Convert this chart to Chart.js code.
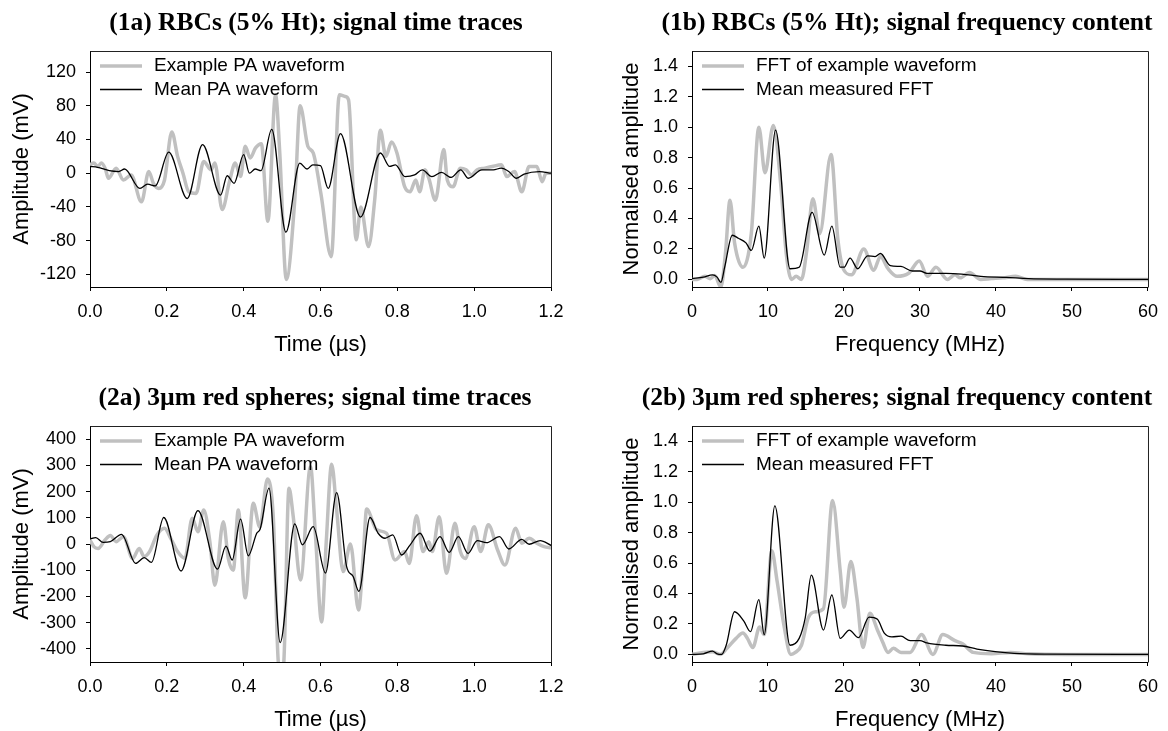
<!DOCTYPE html>
<html>
<head>
<meta charset="utf-8">
<title>PA waveforms and frequency content</title>
<script src="https://cdn.jsdelivr.net/npm/chart.js@4.4.1/dist/chart.umd.min.js"></script>
<style>
  html, body { margin: 0; padding: 0; background: #fff; }
  #fig { position: relative; width: 1168px; height: 731px; overflow: hidden; }
  #fig canvas { position: absolute; }
  .ttl { position: absolute; width: 600px; text-align: center; white-space: nowrap; color: #000;
         font: bold 25.5px "Liberation Serif", "Times New Roman", serif; line-height: 30px; }
</style>
</head>
<body>
<div id="fig">
  <canvas id="c1a" width="584" height="365" style="left:0;top:0"></canvas>
  <canvas id="c1b" width="584" height="365" style="left:584px;top:0"></canvas>
  <canvas id="c2a" width="584" height="365" style="left:0;top:375px"></canvas>
  <canvas id="c2b" width="584" height="365" style="left:584px;top:375px"></canvas>
  <div class="ttl" style="left:16px;top:7px">(1a) RBCs (5% Ht); signal time traces</div>
  <div class="ttl" style="left:607px;top:7px">(1b) RBCs (5% Ht); signal frequency content</div>
  <div class="ttl" style="left:15px;top:382px">(2a) 3µm red spheres; signal time traces</div>
  <div class="ttl" style="left:597px;top:382px">(2b) 3µm red spheres; signal frequency content</div>
</div>
<script>
// ---- data ----
// tick labels
const timeTicks = [0, 0.2, 0.4, 0.6, 0.8, 1.0, 1.2];
const freqTicks = [0, 10, 20, 30, 40, 50, 60];
const normTicks = [0, 0.2, 0.4, 0.6, 0.8, 1.0, 1.2, 1.4];
const ampTicks1 = [-120, -80, -40, 0, 40, 80, 120];
const ampTicks2 = [-400, -300, -200, -100, 0, 100, 200, 300, 400];

// (1a) RBCs, time traces (us, mV)
const exT1 = [0, 0.01, 0.02, 0.03, 0.04, 0.048, 0.068, 0.087, 0.107, 0.134, 0.153, 0.165, 0.179, 0.194, 0.213,
  0.228, 0.242, 0.257, 0.276, 0.296, 0.315, 0.325, 0.344, 0.363, 0.378, 0.392, 0.404, 0.417, 0.431, 0.446,
  0.463, 0.483, 0.494, 0.511, 0.533, 0.547, 0.567, 0.581, 0.601, 0.628, 0.649, 0.664, 0.673, 0.693, 0.705,
  0.725, 0.741, 0.756, 0.770, 0.785, 0.799, 0.819, 0.833, 0.848, 0.858, 0.872, 0.882, 0.899, 0.921, 0.930,
  0.945, 0.964, 0.979, 0.993, 1.008, 1.027, 1.047, 1.071, 1.085, 1.105, 1.124, 1.143, 1.163, 1.177, 1.187, 1.2];
const exA1 = [10, 12, 8, 12, 5, -6, 6, -8, -2, -34, 2, -12, -18, -8, 49,
  20, 0, -22, -24, 14, 4, 12, -43, -10, 12, -4, 32, 18, 30, 35,
  -57, 93, 24, -126, -32, 80, 32, 24, -24, -99, 93, 91, 87, -79, -40,
  -87, -32, 51, 20, 37, 24, -16, -22, -8, -22, 4, -6, -32, 28, -8,
  -16, 6, 4, -2, 4, 6, 8, 10, -4, 2, -22, 8, 8, -10, 0, 0];
const meanT1 = [0, 0.02, 0.05, 0.075, 0.09, 0.13, 0.15, 0.17, 0.205, 0.253, 0.293, 0.34, 0.357, 0.375, 0.40,
  0.415, 0.43, 0.445, 0.473, 0.51, 0.546, 0.565, 0.58, 0.60, 0.62, 0.652, 0.704, 0.756, 0.78, 0.795,
  0.82, 0.845, 0.865, 0.89, 0.915, 0.94, 0.965, 0.985, 1.02, 1.05, 1.07, 1.09, 1.11, 1.13, 1.17, 1.2];
const meanA1 = [8, 7, 3, 2, 5, -18, -13, -15, 25, -30, 34, -26, -3, -12, 22,
  0, 5, 3, 52, -70, 12, 5, 10, 9, -18, 47, -52, 24, 8, 10,
  -4, -2, 4, -4, 1, -5, 4, -6, 4, 4, 6, 2, -6, -1, 2, 0];

// (1b) RBCs, spectra (MHz, normalised)
const exF1 = [0, 0.7, 1.7, 2.4, 3.0, 3.8, 4.4, 5.0, 5.6, 6.7, 7.8, 8.8, 9.6, 10.7, 11.7, 12.4, 13.1, 13.7, 14.4,
  15.1, 15.9, 16.8, 18.3, 19.2, 20.0, 21.0, 22.6, 23.9, 24.8, 25.8, 27.0, 28.5, 29.9, 31.0, 32.1, 33.6,
  34.6, 35.3, 36.5, 38.0, 39.4, 40.9, 42.6, 44.1, 50, 60];
const exN1 = [0, 0, 0.02, 0.005, 0.025, -0.05, 0.17, 0.52, 0.24, 0.08, 0.30, 1.0, 0.70, 1.01, 0.61, 0.17, 0, 0.02, 0,
  0.19, 0.53, 0.30, 0.82, 0.26, 0.06, 0.03, 0.20, 0.06, 0.15, 0.07, 0.02, 0.04, 0.12, 0.02, 0.08, 0,
  0.03, 0.01, 0.045, 0, 0.005, 0.01, 0.02, 0, 0, 0];
const meanF1 = [0, 1.5, 2.7, 3.3, 3.8, 4.3, 5.3, 6.1, 7.1, 7.8, 8.8, 9.5, 11.0, 12.9, 14.1, 15.8, 17.4, 18.4,
  19.5, 20.0, 20.8, 21.8, 23.1, 24.1, 24.8, 26.1, 27.5, 29.0, 30.0, 30.9, 33.4, 35.5, 38.0, 41.4, 44.3, 49.2, 60];
const meanN1 = [0.005, 0.015, 0.03, 0.015, -0.02, 0.08, 0.29, 0.27, 0.24, 0.19, 0.35, 0.14, 0.98, 0.07, 0.08, 0.44, 0.16, 0.35,
  0.08, 0.08, 0.14, 0.07, 0.155, 0.15, 0.17, 0.09, 0.085, 0.055, 0.055, 0.04, 0.04, 0.035, 0.02, 0.013, 0.005, 0.002, 0];

// (2a) 3um spheres, time traces (us, mV)
const exT2 = [0, 0.01, 0.021, 0.039, 0.053, 0.068, 0.087, 0.111, 0.128, 0.141, 0.155, 0.174, 0.194, 0.211, 0.228,
  0.247, 0.266, 0.281, 0.296, 0.312, 0.325, 0.347, 0.36, 0.373, 0.386, 0.404, 0.425, 0.442, 0.462, 0.477,
  0.492, 0.503, 0.518, 0.529, 0.548, 0.574, 0.587, 0.603, 0.615, 0.629, 0.642, 0.659, 0.678, 0.699,
  0.712, 0.72, 0.746, 0.772, 0.794, 0.819, 0.831, 0.85, 0.867, 0.882, 0.891, 0.909, 0.928,
  0.95, 0.964, 0.977, 1.0, 1.017, 1.037, 1.061, 1.08, 1.108, 1.124, 1.143, 1.163, 1.182, 1.2];
const exA2 = [15, -10, -17, 15, 32, 9, 28, -55, -17, -48, -29, 34, 60, 19, -29,
  -55, 98, 47, 130, 9, -157, 85, -55, -100, 130, -205, 155, 65, 248, 106,
  -470, -470, 213, 105, -137, 295, 30, -297, 9, 304, 130, -105, 0, -252,
  -29, 133, 54, 41, -61, -29, -74, 108, -29, 9, -29, 104, -112,
  79, -29, -55, 66, -29, 73, -23, -80, 60, 3, 22, 3, -10, -14];
const meanT2 = [0, 0.015, 0.034, 0.053, 0.082, 0.119, 0.141, 0.16, 0.192, 0.237, 0.281, 0.332, 0.354, 0.37, 0.392,
  0.412, 0.434, 0.443, 0.466, 0.495, 0.533, 0.553, 0.581, 0.613, 0.642, 0.668, 0.685, 0.70, 0.729, 0.75,
  0.768, 0.788, 0.811, 0.833, 0.859, 0.885, 0.911, 0.935, 0.959, 0.984, 1.008, 1.032, 1.066, 1.09,
  1.124, 1.143, 1.172, 1.2];
const meanA2 = [19, 24, 6, 9, 37, -74, -52, -70, 101, -103, 127, -96, -8, -61, 95,
  -45, 41, 57, 213, -376, 77, -3, 66, -111, 196, -86, -124, -181, 101, 41,
  22, 35, -42, -4, 41, -27, 28, -32, 28, -36, 13, 5, 28, -19,
  18, -1, 13, -5];

// (2b) 3um spheres, spectra (MHz, normalised)
const exF2 = [0, 1.5, 2.7, 3.7, 4.6, 5.8, 6.7, 7.3, 8.0, 8.9, 9.5, 10.5, 11.2, 12.1, 13.0, 13.6, 14.4, 15.3, 16.3,
  17.3, 18.5, 19.5, 20.0, 20.9, 21.7, 22.5, 23.4, 24.4, 25.1, 25.8, 26.5, 27.5, 28.7, 30.2, 31.7, 33.0,
  34.6, 35.6, 37.0, 39.4, 41.9, 44.3, 49.2, 60];
const exN2 = [0, 0.013, 0.018, 0, 0.04, 0.105, 0.14, 0.105, 0.045, 0.18, 0.13, 0.68, 0.48, 0.19, 0, 0.013, 0.06, 0.24, 0.28,
  0.30, 1.01, 0.55, 0.31, 0.61, 0.37, 0.045, 0.27, 0.16, 0.08, 0.013, 0.04, 0.013, 0.013, 0.13, 0, 0.13,
  0.09, 0.07, 0.013, 0.004, 0.013, 0.004, 0, 0];
const meanF2 = [0, 1.5, 2.7, 3.3, 3.9, 4.5, 5.6, 6.8, 7.7, 8.8, 9.5, 10.9, 12.9, 14.1, 14.9, 15.7, 17.3, 18.4,
  19.5, 20.7, 21.9, 23.3, 24.4, 25.3, 26.3, 27.5, 28.7, 30.0, 30.9, 33.4, 35.6, 37.5, 39.9, 42.4, 46.8, 60];
const meanN2 = [0, 0.004, 0.022, 0.004, 0, 0.06, 0.28, 0.22, 0.15, 0.36, 0.13, 0.975, 0.06, 0.105, 0.24, 0.52, 0.16, 0.39,
  0.105, 0.16, 0.11, 0.245, 0.23, 0.14, 0.115, 0.12, 0.09, 0.09, 0.075, 0.06, 0.055, 0.035, 0.018, 0.007, 0.002, 0];

// ---- drawing ----
Chart.defaults.font.family = '"Liberation Sans", Arial, sans-serif';
Chart.defaults.color = '#000';

const pts = (xs, ys) => xs.map((x, i) => ({ x, y: ys[i] }));

// legend inside the plot + box round it
const insideLegend = {
  id: 'insideLegend',
  afterDatasetsDraw(chart) {
    const { ctx, chartArea: a } = chart;
    ctx.save();
    ctx.font = '19px "Liberation Sans", Arial, sans-serif';
    ctx.textBaseline = 'middle';
    ctx.fillStyle = '#000';
    chart.data.datasets.forEach((ds, i) => {
      const y = a.top + 15 + i * 23.5;
      ctx.strokeStyle = ds.borderColor;
      ctx.lineWidth = ds.borderWidth;
      ctx.beginPath();
      ctx.moveTo(a.left + 10, y);
      ctx.lineTo(a.left + 52, y);
      ctx.stroke();
      ctx.fillText(ds.label, a.left + 64, y);
    });
    ctx.strokeStyle = '#222';
    ctx.lineWidth = 1;
    ctx.beginPath();
    ctx.moveTo(a.left + 0.5, a.top + 0.5);
    ctx.lineTo(a.right + 0.5, a.top + 0.5);
    ctx.lineTo(a.right + 0.5, a.bottom + 0.5);
    ctx.stroke();
    ctx.restore();
  }
};

function axis(o) {
  return {
    type: 'linear',
    min: o.min, max: o.max,
    afterBuildTicks: s => { s.ticks = o.ticks.map(v => ({ value: v })); },
    afterFit: s => { if (o.width) s.width = o.width; if (o.height) s.height = o.height; },
    ticks: { font: { size: 18 }, padding: 10, callback: o.fmt },
    grid: { display: true, drawOnChartArea: false, drawTicks: true, tickLength: 4, color: '#000' },
    border: { display: true, color: '#000', width: 1 },
    title: { display: true, text: o.title, font: { size: 22 }, padding: o.titlePad }
  };
}

function makePanel(id, p) {
  return new Chart(document.getElementById(id), {
    type: 'line',
    data: {
      datasets: [
        { label: p.labels[0], data: pts(p.ex[0], p.ex[1]), borderColor: '#c0c0c0', borderWidth: 3.5, order: 1 },
        { label: p.labels[1], data: pts(p.mean[0], p.mean[1]), borderColor: '#000', borderWidth: 1.3, order: 0 }
      ]
    },
    options: {
      responsive: false,
      animation: false,
      layout: { padding: { left: 0, right: p.padRight, top: 51, bottom: 0 } },
      elements: {
        point: { radius: 0 },
        line: { cubicInterpolationMode: 'monotone', borderJoinStyle: 'round', borderCapStyle: 'round' }
      },
      plugins: { legend: { display: false }, tooltip: { enabled: false }, title: { display: false } },
      scales: { x: p.x, y: p.y }
    },
    plugins: [insideLegend]
  });
}

const fmt1 = v => v.toFixed(1);
const fmt0 = v => String(v);
const timeAxis = () => axis({ min: 0, max: 1.2, ticks: timeTicks, fmt: fmt1, height: 78,
  title: 'Time (µs)', titlePad: { top: 0, bottom: 7 } });
const freqAxis = () => axis({ min: 0, max: 60, ticks: freqTicks, fmt: fmt0, height: 78,
  title: 'Frequency (MHz)', titlePad: { top: 0, bottom: 7 } });
const ampAxis = (lo, hi, ticks) => axis({ min: lo, max: hi, ticks, fmt: fmt0, width: 90,
  title: 'Amplitude (mV)', titlePad: { top: 9, bottom: 0 } });
const normAxis = () => axis({ min: -0.05, max: 1.5, ticks: normTicks, fmt: fmt1, width: 108,
  title: 'Normalised amplitude', titlePad: { top: 35, bottom: 0 } });

const timeLabels = ['Example PA waveform', 'Mean PA waveform'];
const freqLabels = ['FFT of example waveform', 'Mean measured FFT'];

makePanel('c1a', { labels: timeLabels, ex: [exT1, exA1], mean: [meanT1, meanA1], padRight: 33,
  x: timeAxis(), y: ampAxis(-135, 145, ampTicks1) });
makePanel('c1b', { labels: freqLabels, ex: [exF1, exN1], mean: [meanF1, meanN1], padRight: 16,
  x: freqAxis(), y: normAxis() });
makePanel('c2a', { labels: timeLabels, ex: [exT2, exA2], mean: [meanT2, meanA2], padRight: 33,
  x: timeAxis(), y: ampAxis(-450, 450, ampTicks2) });
makePanel('c2b', { labels: freqLabels, ex: [exF2, exN2], mean: [meanF2, meanN2], padRight: 16,
  x: freqAxis(), y: normAxis() });
</script>
</body>
</html>
